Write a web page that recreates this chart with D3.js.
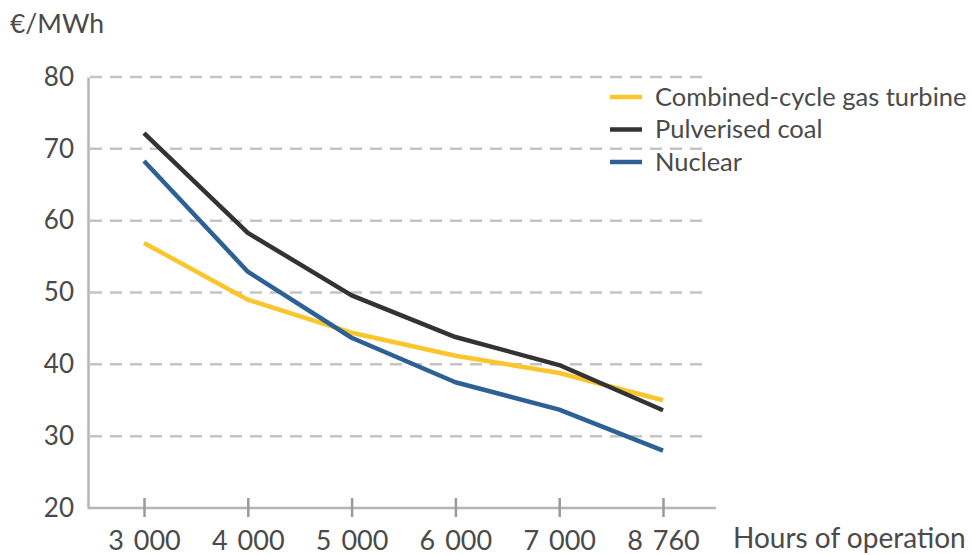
<!DOCTYPE html>
<html>
<head>
<meta charset="utf-8">
<script src="https://cdn.jsdelivr.net/npm/d3@7"></script>
<style>
  html, body { margin: 0; padding: 0; background: #fff; }
  svg { display: block; font-family: Lato, "Open Sans", sans-serif; }
</style>
</head>
<body>
<svg id="chart" width="972" height="555"></svg>
<script>
const categories = ["3 000", "4 000", "5 000", "6 000", "7 000", "8 760"];
const gasValues = [56.9, 49.0, 44.4, 41.2, 38.8, 35.0];
const coalValues = [72.2, 58.3, 49.6, 43.8, 39.9, 33.6];
const nuclearValues = [68.3, 52.9, 43.7, 37.5, 33.7, 28.0];
const seriesNames = ["Combined-cycle gas turbine", "Pulverised coal", "Nuclear"];
const yTicks = [20, 30, 40, 50, 60, 70, 80];
const yLabel = "€/MWh";
const xLabel = "Hours of operation";

const colors = ["#fbc52c", "#333333", "#2d6094"];
const series = [gasValues, coalValues, nuclearValues].map((v, i) => ({
  name: seriesNames[i], color: colors[i], values: v
}));

const svg = d3.select("#chart");
const textColor = "#4a4a4a";
const axisColor = "#b5b5b5";

const x = d3.scalePoint().domain(categories).range([144, 663]);
const y = d3.scaleLinear().domain([20, 80]).range([508, 77]);

// gridlines
svg.append("g").selectAll("line")
  .data(yTicks.filter(t => t > 20))
  .join("line")
  .attr("x1", 90).attr("x2", 710)
  .attr("y1", d => y(d)).attr("y2", d => y(d))
  .attr("stroke", "#c4c4c4").attr("stroke-width", 2.5)
  .attr("stroke-dasharray", "12,8");

// y axis
const yAxis = svg.append("g").attr("transform", "translate(88,0)")
  .call(d3.axisLeft(y).tickValues(yTicks).tickSize(0).tickPadding(14));
yAxis.select(".domain").attr("stroke", axisColor).attr("stroke-width", 2.5);
yAxis.selectAll("text").attr("fill", textColor).style("font-size", "26px")
  .style("font-family", "Lato, sans-serif");

// x axis
const xAxis = svg.append("g").attr("transform", "translate(0,508)")
  .call(d3.axisBottom(x).tickSizeInner(9).tickSizeOuter(0).tickPadding(14));
xAxis.select(".domain").attr("d", "M88,0H716").attr("stroke", axisColor).attr("stroke-width", 2.5);
xAxis.selectAll(".tick line").attr("stroke", "#9a9a9a").attr("stroke-width", 2.5)
  .attr("y1", -10).attr("y2", 9);
xAxis.selectAll("text").attr("fill", textColor).style("font-size", "27px")
  .style("font-family", "Lato, sans-serif").style("word-spacing", "3px");

// axis titles
svg.append("text").attr("x", 10).attr("y", 33).text(yLabel)
  .attr("fill", textColor).style("font-size", "26.5px");
svg.append("text").attr("x", 733).attr("y", 548).text(xLabel)
  .attr("fill", textColor).style("font-size", "28px");

// lines
const line = d3.line().x((d, i) => x(categories[i])).y(d => y(d));
svg.append("g").selectAll("path")
  .data(series)
  .join("path")
  .attr("d", d => line(d.values))
  .attr("fill", "none")
  .attr("stroke", d => d.color)
  .attr("stroke-width", 4.5)
  .attr("stroke-linejoin", "round");

// legend
const legend = svg.append("g").selectAll("g")
  .data(series)
  .join("g")
  .attr("transform", (d, i) => `translate(610,${97 + i * 32.5})`);
legend.append("line").attr("x1", 0).attr("x2", 32)
  .attr("stroke", d => d.color).attr("stroke-width", 4.5);
legend.append("text").attr("x", 45).attr("dy", "0.35em")
  .text(d => d.name).attr("fill", textColor).style("font-size", "25.5px");
</script>
</body>
</html>
